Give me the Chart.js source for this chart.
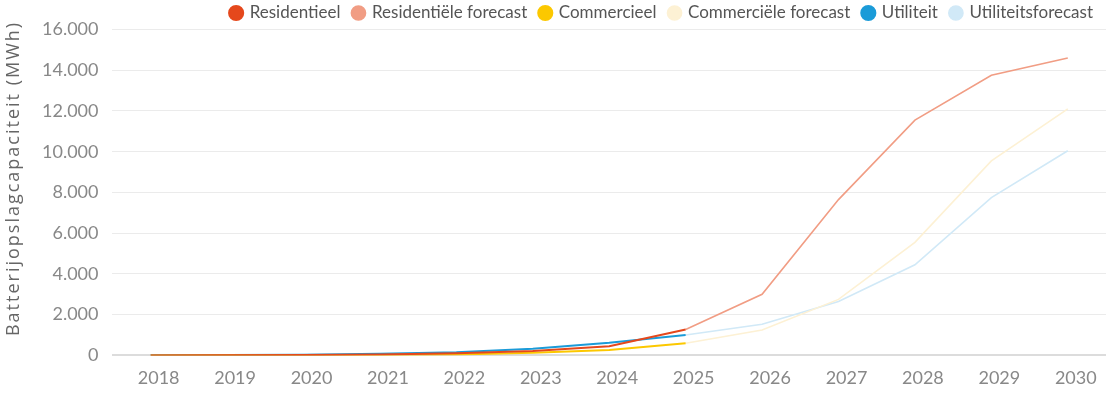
<!DOCTYPE html>
<html>
<head>
<meta charset="utf-8">
<script src="https://cdn.jsdelivr.net/npm/chart.js@4"></script>
<style>
  html, body { margin: 0; padding: 0; background: #fff; }
  #wrap { width: 1111px; height: 397px; position: relative; }
</style>
</head>
<body>
<div id="wrap"><canvas id="batteryChart"></canvas></div>
<script>
// Years on the x axis
const years = ["2018", "2019", "2020", "2021", "2022", "2023", "2024", "2025", "2026", "2027", "2028", "2029", "2030"];

// Historic values (MWh)
const residentieel = [0, 5, 15, 40, 100, 210, 450, 1270, null, null, null, null, null];
const commercieel  = [0, 2, 8, 20, 50, 130, 260, 600, null, null, null, null, null];
const utiliteit    = [10, 15, 35, 80, 160, 330, 620, 1000, null, null, null, null, null];

// Forecasts (MWh), start at 2025
const residentieelForecast = [null, null, null, null, null, null, null, 1270, 3000, 7650, 11550, 13750, 14600];
const commercieelForecast  = [null, null, null, null, null, null, null, 600, 1250, 2750, 5550, 9550, 12100];
const utiliteitForecast    = [null, null, null, null, null, null, null, 1000, 1530, 2650, 4450, 7750, 10050];

const yTicks = [0, 2000, 4000, 6000, 8000, 10000, 12000, 14000, 16000];
const yTitle = "Batterijopslagcapaciteit (MWh)";

const fontFamily = "Lato, 'Open Sans', sans-serif";

function series(label, data, color, width) {
  return {
    label: label,
    data: data,
    borderColor: color,
    backgroundColor: color,
    borderWidth: width,
    pointRadius: 0,
    pointHoverRadius: 0,
    tension: 0,
    fill: false,
    spanGaps: false
  };
}

// y axis title drawn by hand so it can be letter-spaced like the original
const yTitlePlugin = {
  id: "yTitle",
  afterDraw(chart) {
    const c = chart.ctx;
    const area = chart.chartArea;
    c.save();
    c.translate(14, (area.top + area.bottom) / 2 - 14);
    c.rotate(-Math.PI / 2);
    c.font = "18px 'Open Sans', sans-serif";
    c.fillStyle = "#666";
    c.textAlign = "center";
    c.textBaseline = "middle";
    if ("letterSpacing" in c) c.letterSpacing = "2px";
    c.fillText(yTitle, 0, 0);
    c.restore();
  }
};

// fixed legend height so the plot starts where the original does
const legendHeightPlugin = {
  id: "legendHeight",
  beforeInit(chart) {
    const fit = chart.legend.fit;
    chart.legend.fit = function () {
      fit.bind(chart.legend)();
      this.height = 38;
    };
  }
};

const ctx = document.getElementById("batteryChart").getContext("2d");
new Chart(ctx, {
  type: "line",
  data: {
    labels: years,
    datasets: [
      series("Residentieel", residentieel, "#e5481c", 2),
      series("Residentiële forecast", residentieelForecast, "#f19d84", 1.6),
      series("Commercieel", commercieel, "#fcc800", 2),
      series("Commerciële forecast", commercieelForecast, "#fdf1d4", 1.6),
      series("Utiliteit", utiliteit, "#1b9bd8", 2),
      series("Utiliteitsforecast", utiliteitForecast, "#d1e9f7", 1.6)
    ]
  },
  plugins: [yTitlePlugin, legendHeightPlugin],
  options: {
    responsive: true,
    maintainAspectRatio: false,
    animation: false,
    layout: { padding: { left: 28, right: 5, top: -8.5, bottom: 4 } },
    plugins: {
      tooltip: { enabled: false },
      legend: {
        display: true,
        position: "top",
        align: "end",
        labels: {
          usePointStyle: true,
          pointStyle: "circle",
          boxWidth: 10,
          boxHeight: 10,
          padding: 13,
          color: "#555",
          font: { family: fontFamily, size: 17 }
        }
      }
    },
    scales: {
      x: {
        offset: true,
        grid: { display: false },
        border: { display: false },
        ticks: {
          color: "#888",
          font: { family: fontFamily, size: 18 },
          labelOffset: 8,
          padding: 4,
          maxRotation: 0
        }
      },
      y: {
        min: 0,
        max: 16000,
        afterBuildTicks: axis => { axis.ticks = yTicks.map(v => ({ value: v })); },
        border: { display: false },
        grid: {
          drawTicks: false,
          color: c => c.tick && c.tick.value === 0 ? "#dcdcdc" : "#ebebeb",
          lineWidth: c => c.tick && c.tick.value === 0 ? 2 : 1
        },
        ticks: {
          color: "#888",
          padding: 14,
          font: { family: fontFamily, size: 18 },
          callback: v => v.toLocaleString("nl-NL")
        }
      }
    }
  }
});
</script>
</body>
</html>
